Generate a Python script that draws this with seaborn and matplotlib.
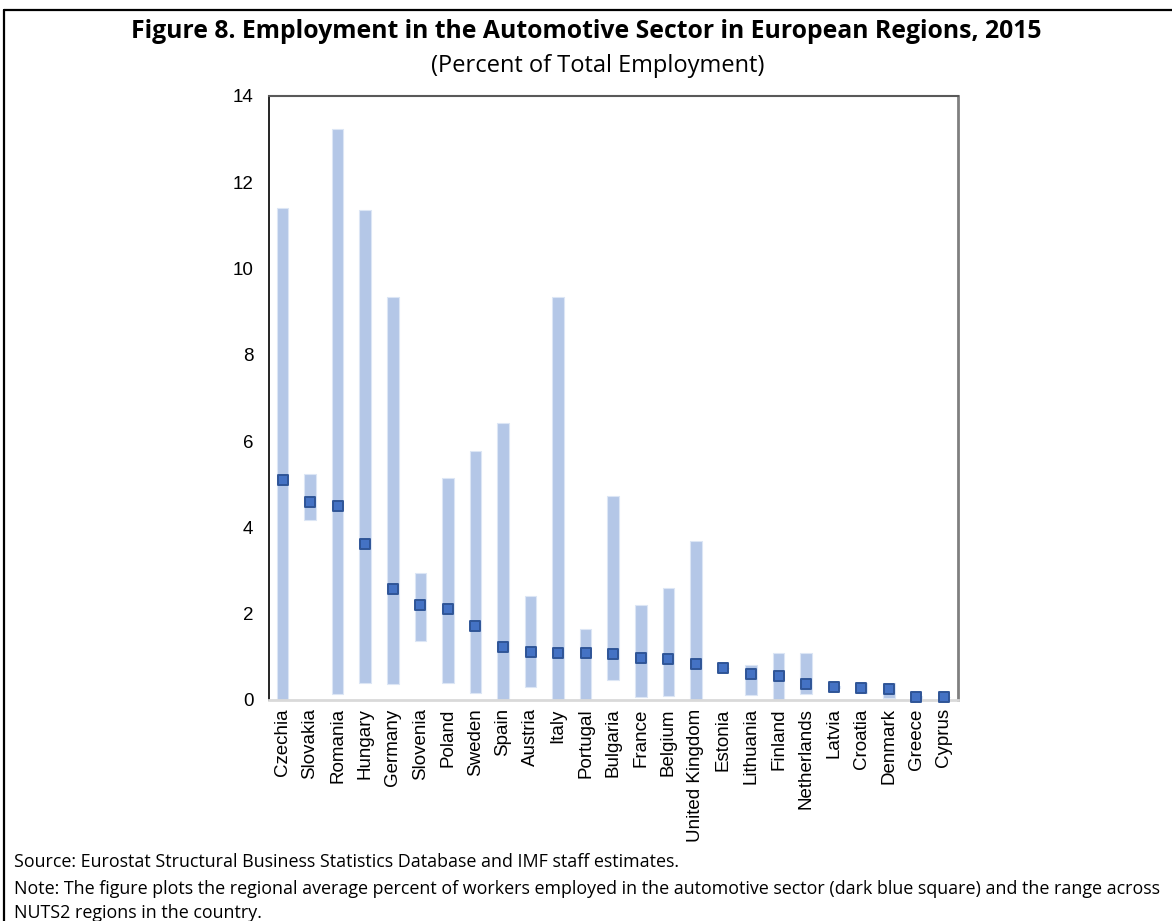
import matplotlib
matplotlib.use("Agg")
import matplotlib.pyplot as plt
from matplotlib.lines import Line2D
import seaborn as sns
import pandas as pd

countries = ["Czechia", "Slovakia", "Romania", "Hungary", "Germany", "Slovenia", "Poland",
             "Sweden", "Spain", "Austria", "Italy", "Portugal", "Bulgaria", "France",
             "Belgium", "United Kingdom", "Estonia", "Lithuania", "Finland", "Netherlands",
             "Latvia", "Croatia", "Denmark", "Greece", "Cyprus"]
average = [5.10, 4.60, 4.50, 3.62, 2.57, 2.21, 2.10, 1.71, 1.22, 1.12, 1.08, 1.08, 1.06,
           0.98, 0.94, 0.83, 0.73, 0.60, 0.56, 0.36, 0.30, 0.27, 0.25, 0.08, 0.07]
range_high = [11.40, 5.23, 13.23, 11.36, 9.34, 2.94, 5.15, 5.76, 6.41, 2.42, 9.34, 1.64, 4.73,
              2.21, 2.60, 3.69, 0.73, 0.81, 1.08, 1.10, 0.33, 0.40, 0.39, 0.10, 0.08]
range_low = [0.00, 4.17, 0.13, 0.39, 0.37, 1.37, 0.39, 0.15, 0.00, 0.29, 0.00, 0.00, 0.46,
             0.08, 0.09, 0.00, 0.73, 0.12, 0.00, 0.13, 0.27, 0.16, 0.04, 0.05, 0.07]
y_ticks = [0, 2, 4, 6, 8, 10, 12, 14]

title = "Figure 8. Employment in the Automotive Sector in European Regions, 2015"
subtitle = "(Percent of Total Employment)"
source = "Source: Eurostat Structural Business Statistics Database and IMF staff estimates."
note1 = ("Note: The figure plots the regional average percent of workers employed in the automotive "
         "sector (dark blue square) and the range across")
note2 = "NUTS2 regions in the country."

sns.set_theme(style="white")
plt.rcParams["font.family"] = ["Liberation Sans", "DejaVu Sans"]
plt.rcParams["text.color"] = "black"

df = pd.DataFrame({
    "country": countries,
    "avg": average,
    "low": range_low,
    "span": [h - l for h, l in zip(range_high, range_low)],
})

fig = plt.figure(figsize=(11.72, 9.21), dpi=100)
ax = fig.add_axes([0.2293, 0.2400, 0.5879, 0.6558])

sns.barplot(data=df, x="country", y="span", order=countries, bottom=df["low"].values,
            color="#B4C7E7", saturation=1, width=0.42, edgecolor="#DCE6F5", linewidth=0.8,
            ax=ax, zorder=2)
sns.scatterplot(data=df, x="country", y="avg", marker="s", s=62, color="#4472C4",
                edgecolor="#2F5597", linewidth=1.4, ax=ax, zorder=3, clip_on=False)

ax.set_xlim(-0.5, len(countries) - 0.5)
ax.set_ylim(0, 14)
ax.set_yticks(y_ticks)
ax.set_yticklabels([str(t) for t in y_ticks], fontsize=13.5, color="black")
ax.tick_params(axis="y", length=0, pad=11)
ax.tick_params(axis="x", length=0, pad=6)
ax.set_xticks(range(len(countries)))
ax.set_xticklabels(countries, rotation=90, fontsize=13.5, color="black")
ax.set_xlabel("")
ax.set_ylabel("")
ax.grid(False)

ax.spines["left"].set_color("black")
ax.spines["left"].set_linewidth(1.2)
ax.spines["top"].set_color("#595959")
ax.spines["top"].set_linewidth(1.5)
ax.spines["right"].set_color("#808080")
ax.spines["right"].set_linewidth(2)
ax.spines["bottom"].set_color("#D9D9D9")
ax.spines["bottom"].set_linewidth(2)
for s in ax.spines.values():
    s.set_visible(True)

fig.text(0.500, 0.966, title, ha="center", va="center", fontsize=17.8, color="black",
         fontweight="bold", family=["Open Sans", "DejaVu Sans"])
fig.text(0.510, 0.928, subtitle, ha="center", va="center", fontsize=17, color="black",
         family=["Open Sans", "DejaVu Sans"])
fig.text(0.012, 1 - 862 / 921, source, ha="left", va="center", fontsize=12.9, color="black",
         family=["Open Sans", "DejaVu Sans"])
fig.text(0.012, 1 - 889 / 921, note1, ha="left", va="center", fontsize=12.9, color="black",
         family=["Open Sans", "DejaVu Sans"])
fig.text(0.012, 1 - 913 / 921, note2, ha="left", va="center", fontsize=12.9, color="black",
         family=["Open Sans", "DejaVu Sans"])

# figure frame (left and top edges)
fig.add_artist(Line2D([4 / 1172, 4 / 1172], [0, 1 - 10 / 921], color="black", linewidth=1.6,
                      transform=fig.transFigure))
fig.add_artist(Line2D([4 / 1172, 1], [1 - 10 / 921, 1 - 10 / 921], color="black", linewidth=1.6,
                      transform=fig.transFigure))

fig.savefig("out.png", dpi=100)
